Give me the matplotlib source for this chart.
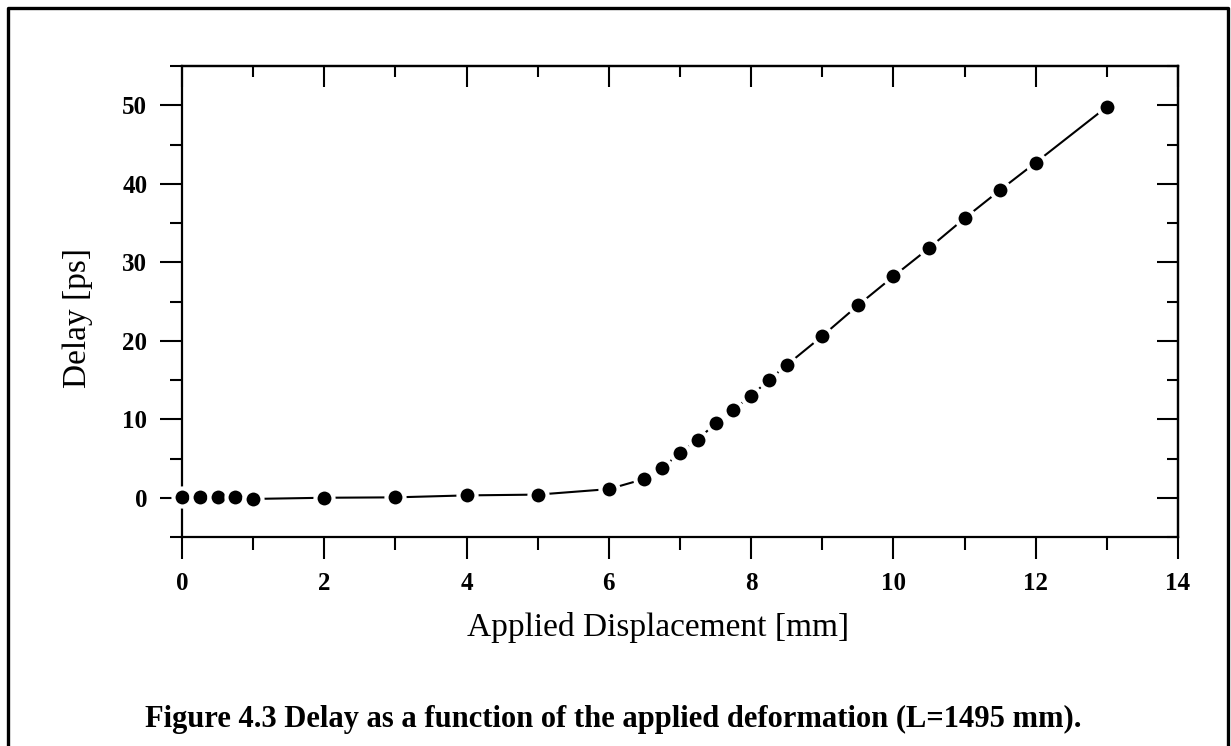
import numpy as np
import matplotlib
matplotlib.use("Agg")
import matplotlib.pyplot as plt
from matplotlib.lines import Line2D
from matplotlib.ticker import MultipleLocator

# measured delay vs applied displacement
displacement = [0, 0.25, 0.5, 0.75, 1, 2, 3, 4, 5, 6, 6.5, 6.75, 7, 7.25, 7.5,
                7.75, 8, 8.25, 8.5, 9, 9.5, 10, 10.5, 11, 11.5, 12, 13]
delay = [0.1, 0.1, 0.1, 0.1, -0.15, 0.0, 0.05, 0.3, 0.4, 1.1, 2.4, 3.8, 5.7, 7.4,
         9.5, 11.2, 13.0, 15.0, 16.9, 20.6, 24.5, 28.2, 31.8, 35.6, 39.2, 42.7, 49.8]

x_ticks = [0, 2, 4, 6, 8, 10, 12, 14]
y_ticks = [0, 10, 20, 30, 40, 50]

plt.rcParams['font.family'] = ['Liberation Serif', 'DejaVu Serif']

fig = plt.figure(figsize=(12.31, 7.46), dpi=100)
ax = fig.add_axes([182 / 1231, 1 - 537 / 746, 996 / 1231, 471 / 746])

ax.plot(displacement, delay, color='black', lw=1.5, marker='o', ms=13,
        mfc='black', mec='white', mew=3, zorder=3, clip_on=False)

ax.set_xlim(0, 14)
ax.set_ylim(-5, 55)
ax.set_xticks(x_ticks)
ax.set_yticks(y_ticks)
ax.xaxis.set_minor_locator(MultipleLocator(1))
ax.yaxis.set_minor_locator(MultipleLocator(5))

for sp in ax.spines.values():
    sp.set_linewidth(1.6)

ax.tick_params(which='major', direction='out', length=16, width=1.5,
               labelsize=18, pad=9)
ax.tick_params(which='minor', direction='out', length=9, width=1.5)
for lab in ax.get_xticklabels() + ax.get_yticklabels():
    lab.set_fontweight('bold')

# top and right: ticks point inward, no labels
top = ax.secondary_xaxis('top')
top.set_xticks(x_ticks)
top.xaxis.set_minor_locator(MultipleLocator(1))
top.tick_params(which='major', direction='in', length=15, width=1.5, labeltop=False)
top.tick_params(which='minor', direction='in', length=8, width=1.5)
top.spines['top'].set_linewidth(1.6)

right = ax.secondary_yaxis('right')
right.set_yticks(y_ticks)
right.yaxis.set_minor_locator(MultipleLocator(5))
right.tick_params(which='major', direction='in', length=15, width=1.5, labelright=False)
right.tick_params(which='minor', direction='in', length=8, width=1.5)
right.spines['right'].set_linewidth(1.6)

ax.set_xlabel('Applied Displacement [mm]', fontsize=24)
ax.xaxis.set_label_coords(0.478, -0.160)
ax.set_ylabel('Delay [ps]', fontsize=24)
ax.yaxis.set_label_coords(-0.0894, 0.465)

fig.text(145 / 1231, 1 - 727 / 746,
         'Figure 4.3 Delay as a function of the applied deformation (L=1495 mm).',
         fontsize=22, fontweight='bold', ha='left', va='baseline')

# page frame around the figure (open at the bottom)
W, H = 1231, 746
frame_x = [8 / W, 8 / W, 1228 / W, 1228 / W]
frame_y = [0, 1 - 8 / H, 1 - 8 / H, 0]
fig.add_artist(Line2D(frame_x, frame_y, transform=fig.transFigure,
                      color='black', lw=2.4))

fig.savefig('out.png', dpi=100)
